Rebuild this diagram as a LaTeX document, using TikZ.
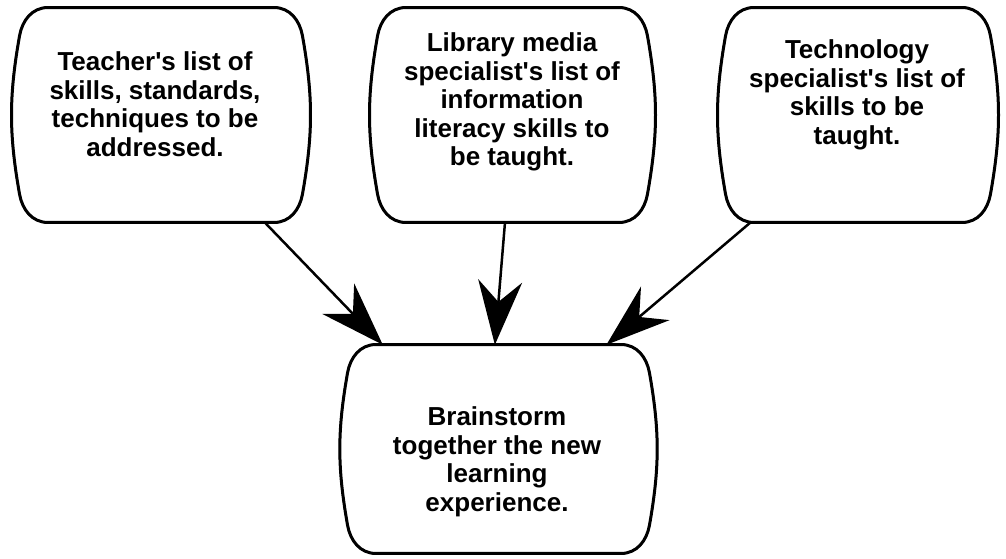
\documentclass[tikz,border=0pt]{standalone}
\usepackage{fontspec}
\setmainfont{Liberation Sans}
\usetikzlibrary{arrows.meta, calc}

% outline of a bulging rounded box around a node
\newcommand\bubblepath[1]{($(#1.north west)+(28,0)$) -- ($(#1.north east)+(-28,0)$)
  to[out=0,in=100] ($(#1.north east)+(0,28)$) to[out=-80,in=80] ($(#1.south east)+(0,-28)$)
  to[out=-100,in=0] ($(#1.south east)+(-28,0)$) -- ($(#1.south west)+(28,0)$)
  to[out=180,in=-80] ($(#1.south west)+(0,-28)$) to[out=100,in=-100] ($(#1.north west)+(0,28)$)
  to[out=80,in=180] cycle}
\newcommand\ap{\textquotesingle}

\tikzset{
  bubble/.style={minimum width=#1, inner sep=0pt},
  txt/.style={align=center, inner sep=0pt, font=\bfseries\fontsize{26}{28.5}\selectfont},
  rim/.style={line width=2.5pt, fill=white},
  rimshadow/.style={line width=3.5pt, shift={(2,2)}},
  arr/.style={line width=2.5pt, -{Stealth[length=64pt, width=44pt, inset=21pt]}},
}

\begin{document}
\begin{tikzpicture}[x=1pt, y=-1pt]
    \useasboundingbox (0,0) rectangle (1006,559);

    \node[bubble=282pt, minimum height=214pt] (teacher) at (161, 115) {};
    \node[bubble=269pt, minimum height=214pt] (library) at (512.5, 115) {};
    \node[bubble=264pt, minimum height=214pt] (tech) at (858, 115) {};
    \node[bubble=301pt, minimum height=208pt] (brain) at (498.5, 449) {};

    \foreach \n in {teacher, library, tech, brain} {
        \draw[rimshadow] \bubblepath{\n};
        \draw[rim] \bubblepath{\n};
    }

    \node[txt] (teachertext) at (155, 104) {Teacher\ap s list of\\skills, standards,\\techniques to be\\addressed.};
    \node[txt] (librarytext) at (512, 102) {Library media\\specialist\ap s list of\\information\\literacy skills to\\be taught.};
    \node[txt] (techtext) at (857, 95) {Technology\\specialist\ap s list of\\skills to be\\taught.};
    \node[txt] (braintext) at (497, 462) {Brainstorm\\together the new\\learning\\experience.};

    \draw[arr] (teacher.-46) -- (brain.138);
    \draw[arr] (library.-94) -- (brain.92);
    \draw[arr] (tech.-135) -- (brain.44);
\end{tikzpicture}
\end{document}
